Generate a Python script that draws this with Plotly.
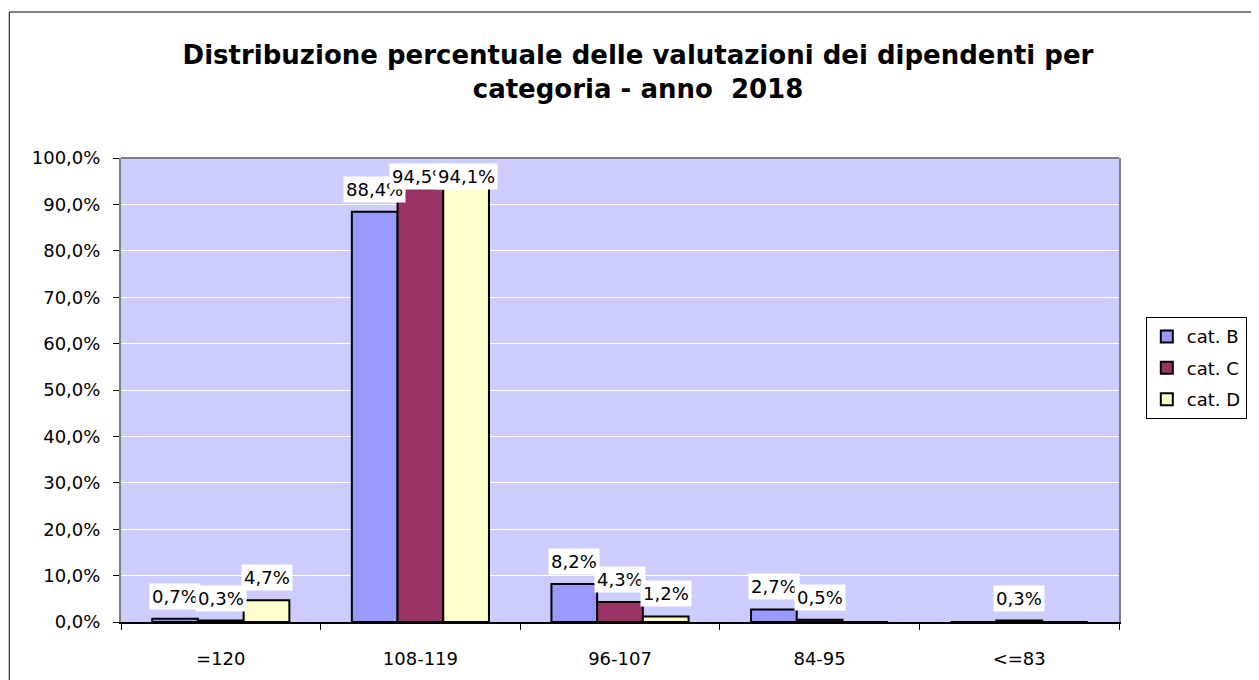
import plotly.graph_objects as go

categories = ["=120", "108-119", "96-107", "84-95", "<=83"]
series_names = ["cat. B", "cat. C", "cat. D"]
cat_b = [0.7, 88.4, 8.2, 2.7, 0.0]
cat_c = [0.3, 94.5, 4.3, 0.5, 0.3]
cat_d = [4.7, 94.1, 1.2, 0.0, 0.0]
colors = ["#9999FF", "#993366", "#FFFFCC"]
y_ticks = [0, 10, 20, 30, 40, 50, 60, 70, 80, 90, 100]
y_tick_labels = [("%.1f%%" % v).replace(".", ",") for v in y_ticks]

# figure sits at (8, 8) in the page because of the default body margin
W, H = 1251, 672
ML, MR, MT, MB = 113, 133, 150, 58
PW, PH = W - ML - MR, H - MT - MB
BARGAP = 0.313
FONT = "DejaVu Sans"
FS = 18

fig = go.Figure()
all_series = [cat_b, cat_c, cat_d]
for name, vals, col in zip(series_names, all_series, colors):
    fig.add_trace(go.Bar(
        x=categories, y=vals, name=name, legendgroup=name,
        marker=dict(color=col, line=dict(color="black", width=2)),
    ))

# data labels with white boxes
cat_px = PW / len(categories)
bar_px = cat_px * (1 - BARGAP) / len(all_series)
px_per_unit = PH / 100.0
for si, vals in enumerate(all_series):
    for ci, v in enumerate(vals):
        if v <= 0:
            continue
        txt = ("%.1f%%" % v).replace(".", ",")
        shift_x = (si - 1) * bar_px
        if v * px_per_unit + 9 + 26 > PH + 2:
            fig.add_annotation(x=categories[ci], y=100, yanchor="top", yshift=-5,
                               xshift=shift_x, text=txt, showarrow=False,
                               bgcolor="white", borderpad=2,
                               font=dict(family=FONT, size=FS, color="black"))
        else:
            fig.add_annotation(x=categories[ci], y=v, yanchor="bottom", yshift=9,
                               xshift=shift_x, text=txt, showarrow=False,
                               bgcolor="white", borderpad=2,
                               font=dict(family=FONT, size=FS, color="black"))

# outer chart border
fig.add_shape(type="rect", xref="paper", yref="paper",
              x0=(0.5 - ML) / PW, x1=(W + 10 - ML) / PW,
              y0=(-(10) - MB) / PH, y1=(H - MB - 4) / PH,
              line=dict(color="black", width=1))
# top border of plot area (gray)
fig.add_shape(type="line", xref="paper", yref="paper", x0=0, x1=1, y0=1, y1=1,
              line=dict(color="#808080", width=2))

fig.update_layout(
    width=W, height=H,
    margin=dict(l=ML, r=MR, t=MT, b=MB),
    paper_bgcolor="white", plot_bgcolor="#CCCCFF",
    barmode="group", bargap=BARGAP, bargroupgap=0,
    font=dict(family=FONT, size=FS, color="black"),
    title=dict(text="<b>Distribuzione percentuale delle valutazioni dei dipendenti per<br>categoria - anno  2018</b>",
               x=630 / W, xanchor="center", y=1 - 56 / H, yanchor="top",
               font=dict(family=FONT, size=26, color="black")),
    legend=dict(x=(1145 - ML) / PW, xanchor="left", y=0.547, yanchor="middle",
                bordercolor="black", borderwidth=1, bgcolor="white",
                font=dict(family=FONT, size=FS), itemwidth=30, tracegroupgap=5),
    showlegend=True,
)
fig.update_xaxes(showline=True, linecolor="black", linewidth=2, ticks="outside",
                 tickson="boundaries", ticklen=6, tickcolor="black", tickwidth=1,
                 showgrid=False, ticklabelstandoff=19, fixedrange=True)
fig.update_yaxes(range=[0, 100], tickvals=y_ticks, ticktext=y_tick_labels,
                 showline=True, linecolor="#808080", linewidth=2, mirror=True,
                 ticks="outside", ticklen=6, tickcolor="black", tickwidth=1,
                 showgrid=True, gridcolor="white", gridwidth=1,
                 zeroline=False, ticklabelstandoff=9, fixedrange=True)

fig.write_html("out.html")
